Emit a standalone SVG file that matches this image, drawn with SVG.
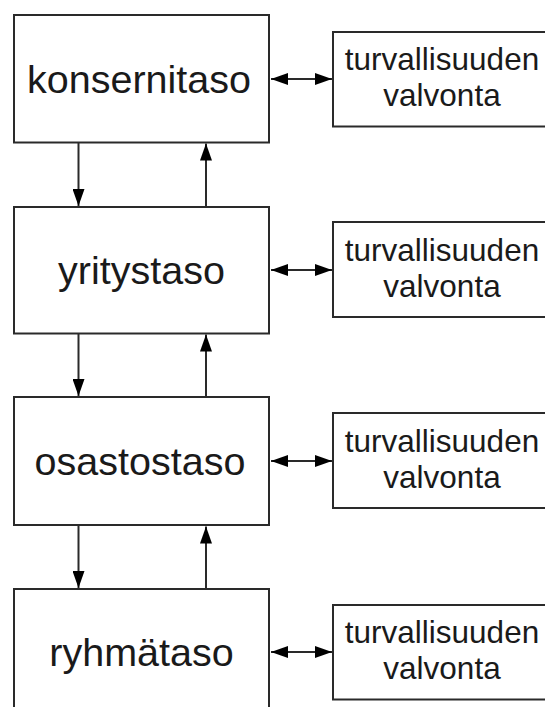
<svg xmlns="http://www.w3.org/2000/svg" width="545" height="707" viewBox="0 0 545 707">
<defs>
<style>
.box{fill:#fff;stroke:#2a2a2a;stroke-width:2}
.lbl{font-family:"Liberation Sans",Arial,sans-serif;font-size:39.5px;fill:#1a1a1a;text-anchor:middle}
.sub{font-family:"Liberation Sans",Arial,sans-serif;font-size:31.5px;fill:#1a1a1a;text-anchor:middle}
.conn{stroke:#2a2a2a;stroke-width:2;fill:none}
</style>
<marker id="ah" viewBox="0 0 17 12" refX="17" refY="6" markerWidth="17" markerHeight="12" markerUnits="userSpaceOnUse" orient="auto-start-reverse">
<path d="M0,0 L17,6 L0,12 z" fill="#000"/>
</marker>
</defs>
<rect width="545" height="707" fill="#fff"/>
<g id="connectors">
<line class="conn" x1="78.5" y1="143" x2="78.5" y2="206" marker-end="url(#ah)"/>
<line class="conn" x1="206" y1="207" x2="206" y2="143.5" marker-end="url(#ah)"/>
<line class="conn" x1="78.5" y1="334" x2="78.5" y2="396" marker-end="url(#ah)"/>
<line class="conn" x1="206" y1="397" x2="206" y2="334.5" marker-end="url(#ah)"/>
<line class="conn" x1="78.5" y1="526" x2="78.5" y2="588" marker-end="url(#ah)"/>
<line class="conn" x1="206" y1="589" x2="206" y2="526.5" marker-end="url(#ah)"/>
<line class="conn" x1="271" y1="79" x2="332" y2="79" marker-start="url(#ah)" marker-end="url(#ah)"/>
<line class="conn" x1="271" y1="270" x2="332" y2="270" marker-start="url(#ah)" marker-end="url(#ah)"/>
<line class="conn" x1="271" y1="461" x2="332" y2="461" marker-start="url(#ah)" marker-end="url(#ah)"/>
<line class="conn" x1="271" y1="652" x2="332" y2="652" marker-start="url(#ah)" marker-end="url(#ah)"/>
</g>
<g id="konsernitaso">
<rect class="box" x="14" y="15" width="255" height="127.5"/>
<text class="lbl" x="139" y="93">konsernitaso</text>
</g>
<g id="yritystaso">
<rect class="box" x="14" y="207" width="255" height="126.5"/>
<text class="lbl" x="141.5" y="284">yritystaso</text>
</g>
<g id="osastostaso">
<rect class="box" x="14" y="397" width="255" height="128"/>
<text class="lbl" x="140" y="475">osastostaso</text>
</g>
<g id="ryhmataso">
<rect class="box" x="14" y="589" width="255" height="130"/>
<text class="lbl" x="141.5" y="666">ryhmätaso</text>
</g>
<g id="valvonta1">
<rect class="box" x="333" y="32" width="230" height="94.5"/>
<text class="sub" x="442" y="70">turvallisuuden</text>
<text class="sub" x="442" y="106">valvonta</text>
</g>
<g id="valvonta2">
<rect class="box" x="333" y="222" width="230" height="95"/>
<text class="sub" x="442" y="261">turvallisuuden</text>
<text class="sub" x="442" y="297">valvonta</text>
</g>
<g id="valvonta3">
<rect class="box" x="333" y="413" width="230" height="95"/>
<text class="sub" x="442" y="452">turvallisuuden</text>
<text class="sub" x="442" y="488">valvonta</text>
</g>
<g id="valvonta4">
<rect class="box" x="333" y="605" width="230" height="94.5"/>
<text class="sub" x="442" y="643">turvallisuuden</text>
<text class="sub" x="442" y="679">valvonta</text>
</g>
</svg>
